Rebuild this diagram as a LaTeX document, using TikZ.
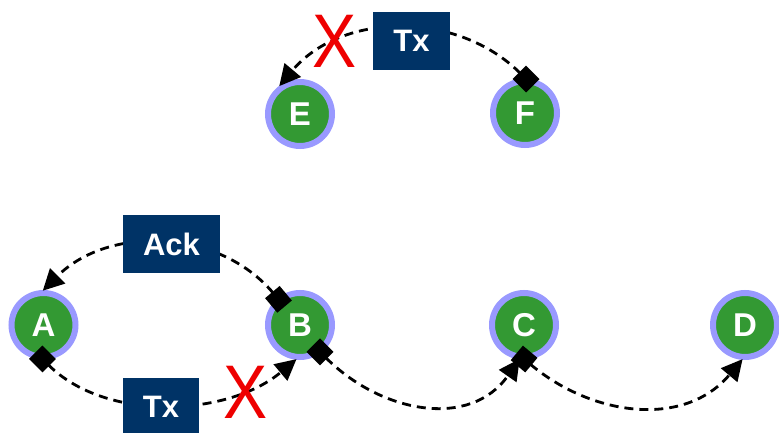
\documentclass[tikz,border=0pt]{standalone}
\usepackage{fontspec}
\setmainfont{Liberation Sans}
\usetikzlibrary{arrows.meta}
\definecolor{nodegreen}{HTML}{339933}
\definecolor{ringblue}{HTML}{9999FF}
\definecolor{boxnavy}{HTML}{003366}
\definecolor{xred}{HTML}{EE0000}
\tikzset{
  station/.style={circle, fill=nodegreen, draw=ringblue, line width=6pt, minimum size=64pt, inner sep=0pt,
    text=white, font=\fontsize{33}{33}\selectfont\bfseries},
  frame/.style={fill=boxnavy, inner sep=0pt, text=white, font=\fontsize{31}{31}\selectfont\bfseries},
  link/.style={line width=2.8pt, dash pattern=on 9pt off 6pt,
    {Square[length=19pt,width=19pt,sep=0pt]}-{Triangle[length=21pt,width=21pt]},
    shorten <=-11pt, shorten >=-1pt},
  fail/.style={inner sep=0pt, text=xred, font=\fontsize{76}{76}\selectfont}
}
\begin{document}
\begin{tikzpicture}[x=1pt,y=1pt]
\useasboundingbox (0,0) rectangle (779,-433);
% stations
\node[station] (E) at (300,-114) {E};
\node[station] (F) at (525,-113) {F};
\node[station] (A) at (43.5,-325) {A};
\node[station] (B) at (300,-325) {B};
\node[station] (C) at (524,-325) {C};
\node[station] (D) at (745,-325) {D};
% links
\draw[link] (F.90) to[out=135,in=50] (E.125);
\draw[link] (B.130) to[out=130,in=45] (A.90);
\draw[link] (A.-90) to[out=-45,in=220,looseness=0.9] (B.-97);
\draw[link] (B.-53) to[out=-45,in=235,looseness=1.1] (C.-98);
\draw[link] (C.-88) to[out=-40,in=230,looseness=1.05] (D.-95);
% frames
\node[frame, minimum width=77pt, minimum height=58pt] (tx1) at (411.5,-41) {Tx};
\node[frame, minimum width=97pt, minimum height=58pt] (ack) at (171.5,-244) {Ack};
\node[frame, minimum width=76pt, minimum height=58pt] (tx2) at (161,-407) {Tx};
% failures
\node[fail] (x1) at (335,-41) {\scalebox{0.87}[1]{X}};
\node[fail] (x2) at (245.5,-392) {\scalebox{0.87}[1]{X}};
\end{tikzpicture}
\end{document}
